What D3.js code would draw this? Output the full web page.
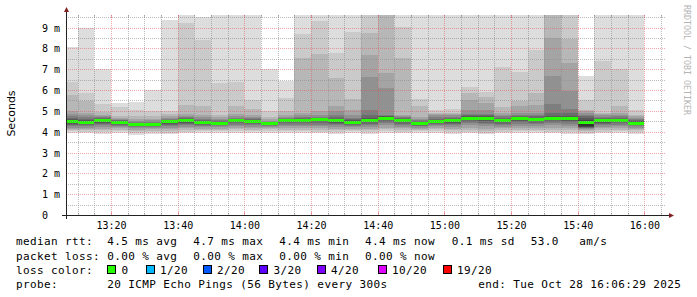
<!DOCTYPE html>
<html><head><meta charset="utf-8">
<script src="https://cdn.jsdelivr.net/npm/d3@7/dist/d3.min.js"></script>
<style>
html,body{margin:0;padding:0;background:#fff;}
svg{display:block;}
</style></head><body>
<svg id="chart" width="697" height="297"></svg>
<script>
// ---------- data ----------
const rangeStart = "13:06:29";
const rangeEnd = "16:06:29";
const stepMinutes = 5;
const binStarts = ["13:05","13:10","13:15","13:20","13:25","13:30","13:35","13:40","13:45","13:50","13:55",
  "14:00","14:05","14:10","14:15","14:20","14:25","14:30","14:35","14:40","14:45","14:50","14:55",
  "15:00","15:05","15:10","15:15","15:20","15:25","15:30","15:35","15:40","15:45","15:50","15:55"];
const medianRtt = [4.50,4.46,4.55,4.46,4.36,4.36,4.50,4.55,4.45,4.40,4.55,
  4.50,4.38,4.54,4.55,4.60,4.54,4.45,4.55,4.65,4.53,4.38,4.48,
  4.53,4.63,4.63,4.53,4.61,4.58,4.63,4.63,4.43,4.52,4.54,4.40];
// 20 sorted ping times (ms) per 5-minute step
const pings = [
  [3.95,4.02,4.08,4.14,4.20,4.26,4.31,4.36,4.41,4.46,4.53,4.57,4.62,4.68,4.75,4.85,4.98,5.78,6.40,8.05],
  [3.92,4.00,4.07,4.13,4.19,4.25,4.30,4.35,4.39,4.43,4.49,4.53,4.58,4.63,4.70,4.78,4.90,5.46,5.86,9.00],
  [3.90,3.98,4.06,4.14,4.22,4.30,4.37,4.43,4.48,4.52,4.57,4.59,4.62,4.65,4.69,4.73,4.80,4.94,5.33,7.00],
  [3.95,4.03,4.10,4.17,4.23,4.29,4.34,4.38,4.41,4.44,4.48,4.50,4.52,4.55,4.58,4.63,4.68,4.76,5.17,5.40],
  [3.86,3.95,4.03,4.10,4.16,4.21,4.26,4.30,4.32,4.34,4.37,4.39,4.41,4.44,4.47,4.52,4.60,4.75,5.05,5.42],
  [3.90,3.98,4.05,4.12,4.18,4.23,4.27,4.30,4.32,4.34,4.37,4.39,4.41,4.44,4.48,4.54,4.62,4.75,4.98,6.00],
  [3.87,3.96,4.04,4.12,4.20,4.27,4.34,4.39,4.44,4.48,4.51,4.53,4.55,4.58,4.62,4.68,4.75,4.85,5.00,9.36],
  [3.92,4.00,4.08,4.16,4.24,4.31,4.38,4.44,4.49,4.53,4.57,4.59,4.62,4.66,4.70,4.75,4.85,5.30,9.23,10.4],
  [3.93,4.01,4.08,4.15,4.21,4.27,4.32,4.37,4.41,4.43,4.47,4.49,4.52,4.56,4.62,4.70,4.82,5.22,8.40,9.52],
  [3.94,4.02,4.09,4.15,4.21,4.26,4.30,4.34,4.37,4.39,4.41,4.43,4.46,4.50,4.55,4.62,4.70,4.82,6.35,10.1],
  [3.95,4.03,4.11,4.19,4.27,4.34,4.40,4.45,4.50,4.53,4.56,4.58,4.60,4.63,4.68,4.75,4.85,5.23,6.40,10.6],
  [3.93,4.01,4.09,4.17,4.24,4.30,4.36,4.41,4.45,4.48,4.51,4.53,4.56,4.60,4.65,4.72,4.82,5.10,5.50,10.2],
  [3.95,4.04,4.12,4.19,4.24,4.28,4.31,4.34,4.36,4.37,4.39,4.40,4.42,4.45,4.48,4.53,4.60,4.70,5.00,7.02],
  [3.94,4.02,4.10,4.18,4.26,4.33,4.40,4.46,4.50,4.53,4.55,4.57,4.59,4.62,4.66,4.72,4.80,4.98,5.62,6.43],
  [3.93,4.01,4.09,4.17,4.25,4.33,4.40,4.46,4.50,4.53,4.57,4.59,4.62,4.66,4.72,4.80,4.91,7.54,8.69,10.3],
  [3.92,4.00,4.08,4.16,4.25,4.34,4.42,4.49,4.54,4.58,4.61,4.63,4.65,4.68,4.72,4.78,4.98,7.74,9.31,10.5],
  [3.90,3.98,4.06,4.14,4.22,4.30,4.38,4.44,4.49,4.52,4.55,4.58,4.63,4.70,4.80,4.98,5.22,6.58,7.79,10.4],
  [3.93,4.01,4.08,4.15,4.21,4.27,4.32,4.37,4.41,4.43,4.47,4.50,4.54,4.60,4.68,4.80,5.02,5.55,8.78,10.2],
  [3.90,3.98,4.06,4.14,4.22,4.30,4.38,4.45,4.50,4.53,4.56,4.60,4.66,4.80,5.04,6.62,7.70,8.74,10.2,10.8],
  [3.95,4.03,4.11,4.20,4.30,4.40,4.48,4.55,4.60,4.63,4.67,4.70,4.73,4.76,4.82,6.10,6.82,10.0,10.4,11.0],
  [3.92,4.00,4.08,4.16,4.24,4.32,4.39,4.45,4.49,4.52,4.55,4.58,4.61,4.65,4.70,4.76,4.82,7.54,9.02,10.3],
  [3.95,4.02,4.08,4.14,4.20,4.25,4.29,4.32,4.35,4.37,4.40,4.42,4.45,4.49,4.54,4.60,4.72,5.23,5.55,10.2],
  [3.96,4.04,4.12,4.20,4.27,4.33,4.38,4.42,4.45,4.47,4.50,4.53,4.57,4.62,4.70,4.78,4.85,4.91,5.04,10.1],
  [3.90,3.98,4.06,4.14,4.22,4.30,4.38,4.44,4.48,4.51,4.55,4.58,4.62,4.66,4.72,4.80,4.86,4.92,5.08,10.2],
  [3.92,4.00,4.10,4.20,4.30,4.40,4.48,4.54,4.58,4.61,4.66,4.70,4.75,4.80,4.85,5.06,5.52,5.87,6.13,10.3],
  [3.88,3.96,4.05,4.15,4.25,4.35,4.44,4.52,4.57,4.61,4.66,4.70,4.74,4.80,4.85,5.05,5.36,5.68,5.92,10.4],
  [3.92,4.00,4.08,4.16,4.24,4.32,4.39,4.45,4.49,4.52,4.56,4.59,4.63,4.68,4.74,4.82,4.90,5.20,7.10,10.2],
  [3.94,4.02,4.10,4.19,4.28,4.37,4.45,4.51,4.56,4.59,4.63,4.66,4.70,4.74,4.80,4.88,5.23,5.49,6.86,10.3],
  [3.93,4.01,4.09,4.18,4.27,4.36,4.44,4.50,4.54,4.57,4.61,4.64,4.68,4.73,4.80,4.90,5.28,5.87,7.94,10.2],
  [3.92,4.00,4.10,4.20,4.30,4.40,4.48,4.55,4.59,4.62,4.66,4.70,4.76,4.88,5.33,6.67,8.50,10.1,10.5,11.0],
  [3.90,3.98,4.08,4.18,4.28,4.38,4.46,4.53,4.58,4.61,4.66,4.70,4.76,4.88,5.07,5.97,7.31,8.47,10.2,10.7],
  [3.88,3.95,4.02,4.08,4.13,4.17,4.20,4.22,4.24,4.26,4.50,4.58,4.66,4.74,4.82,4.90,4.97,5.04,5.52,6.67],
  [3.92,4.00,4.08,4.16,4.24,4.31,4.37,4.42,4.46,4.49,4.55,4.58,4.62,4.66,4.72,4.78,4.83,4.88,7.39,10.2],
  [3.94,4.02,4.10,4.18,4.26,4.33,4.40,4.46,4.50,4.53,4.56,4.59,4.63,4.68,4.74,4.82,4.92,5.23,6.99,10.3],
  [3.90,3.98,4.06,4.13,4.20,4.26,4.31,4.35,4.37,4.39,4.42,4.45,4.49,4.54,4.60,4.67,4.74,4.80,5.04,10.1]
];
const yMaxMs = 9.6;
const yTickValues = [0,1,2,3,4,5,6,7,8,9];
const yTickLabels = ["0","1 m","2 m","3 m","4 m","5 m","6 m","7 m","8 m","9 m"];
const yAxisTitle = "Seconds";
const watermark = "RRDTOOL / TOBI OETIKER";
const lossColorLabels = ["0","1/20","2/20","3/20","4/20","10/20","19/20"];
const lossColors = ["#26ff00","#00b8ff","#0059ff","#5e00ff","#7e00ff","#dd00ff","#ff0000"];
const legendRtt = ["median rtt:","4.5 ms avg","4.7 ms max","4.4 ms min","4.4 ms now","0.1 ms sd","53.0","am/s"];
const legendLoss = ["packet loss:","0.00 % avg","0.00 % max","0.00 % min","0.00 % now"];
const legendLossTitle = "loss color:";
const legendProbe = ["probe:","20 ICMP Echo Pings (56 Bytes) every 300s","end: Tue Oct 28 16:06:29 2025"];

// ---------- layout ----------
const X0 = 66, X1 = 666, Y0 = 215, Y1 = 15;
const mono = "'DejaVu Sans Mono', monospace";
const svg = d3.select("#chart");
svg.append("rect").attr("width",697).attr("height",297).attr("fill","#fff");

function toDate(hms){
  const p = hms.split(":").map(Number);
  return new Date(Date.UTC(2025,9,28,p[0],p[1],p[2]||0));
}
const tStart = toDate(rangeStart), tEnd = toDate(rangeEnd);
const x = d3.scaleUtc().domain([tStart,tEnd]).range([X0,X1]);
const y = d3.scaleLinear().domain([0,yMaxMs]).range([Y0,Y1]);

// smoke band colours (smokeping style)
const half = 10;
const bandColors = d3.range(1,half+1).map(i=>{
  const c = Math.floor(190/half*(half-i))+50;
  return d3.rgb(c,c,c).formatHex();
});

svg.append("defs").append("clipPath").attr("id","plot")
  .append("rect").attr("x",X0).attr("y",Y1).attr("width",X1-X0).attr("height",Y0-Y1);

const plot = svg.append("g").attr("clip-path","url(#plot)").attr("shape-rendering","crispEdges");
binStarts.forEach((s,i)=>{
  const t0 = toDate(s);
  const t1 = d3.utcMinute.offset(t0, stepMinutes);
  const xa = Math.max(x(t0), X0), xb = x(t1);
  const p = pings[i];
  for(let k=0;k<half;k++){
    const lo = Math.min(p[k], yMaxMs), hi = Math.min(p[19-k], yMaxMs);
    plot.append("rect").attr("x",xa).attr("width",xb-xa)
      .attr("y",y(hi)).attr("height",Math.max(0,y(lo)-y(hi)))
      .attr("fill",bandColors[k]);
  }
  plot.append("rect").attr("x",xa).attr("width",xb-xa)
    .attr("y",y(medianRtt[i])-1.5).attr("height",3)
    .attr("fill",lossColors[0]);
});

// ---------- grid ----------
const grid = svg.append("g").attr("shape-rendering","crispEdges");
const minorCol = "rgba(140,140,140,0.6)", majorCol = "rgba(224,80,80,0.5)";
const minorT = x.ticks(d3.utcMinute.every(5));
const majorT = x.ticks(d3.utcMinute.every(20));
const majorSet = new Set(majorT.map(d=>+d));
minorT.filter(d=>!majorSet.has(+d)).forEach(d=>{
  const xx = Math.round(x(d))+0.5;
  grid.append("line").attr("x1",xx).attr("x2",xx).attr("y1",Y1).attr("y2",Y0)
    .attr("stroke",minorCol).attr("stroke-dasharray","1,1");
  grid.append("line").attr("x1",xx).attr("x2",xx).attr("y1",Y0-2).attr("y2",Y0).attr("stroke",minorCol);
  grid.append("line").attr("x1",xx).attr("x2",xx).attr("y1",Y1).attr("y2",Y1+2).attr("stroke",minorCol);
});
majorT.forEach(d=>{
  const xx = Math.round(x(d))+0.5;
  grid.append("line").attr("x1",xx).attr("x2",xx).attr("y1",Y1).attr("y2",Y0)
    .attr("stroke",majorCol).attr("stroke-dasharray","1,1");
  grid.append("line").attr("x1",xx).attr("x2",xx).attr("y1",Y0-3).attr("y2",Y0).attr("stroke",majorCol);
  grid.append("line").attr("x1",xx).attr("x2",xx).attr("y1",Y1).attr("y2",Y1+3).attr("stroke",majorCol);
});
d3.range(0.5, yMaxMs, 1).forEach(v=>{
  const yy = Math.round(y(v))+0.5;
  grid.append("line").attr("x1",X0).attr("x2",X1).attr("y1",yy).attr("y2",yy)
    .attr("stroke",minorCol).attr("stroke-dasharray","1,1");
});
yTickValues.filter(v=>v>0).forEach(v=>{
  const yy = Math.round(y(v))+0.5;
  grid.append("line").attr("x1",X0).attr("x2",X1).attr("y1",yy).attr("y2",yy)
    .attr("stroke",majorCol).attr("stroke-dasharray","1,1");
});

// ---------- axes ----------
const ax = svg.append("g").attr("shape-rendering","crispEdges");
ax.append("line").attr("x1",X0-4).attr("x2",X1+4).attr("y1",Y0+0.5).attr("y2",Y0+0.5).attr("stroke","#222");
ax.append("line").attr("x1",X0+0.5).attr("x2",X0+0.5).attr("y1",Y0+4).attr("y2",Y1-4).attr("stroke","#222");
svg.append("path").attr("d",`M${X1+3},${Y0-2}L${X1+3},${Y0+3}L${X1+8},${Y0+0.5}Z`).attr("fill","#802020");
svg.append("path").attr("d",`M${X0-2},${Y1-3}L${X0+3},${Y1-3}L${X0+0.5},${Y1-8}Z`).attr("fill","#802020");

// y tick labels
const yAx = d3.axisLeft(y).tickValues(yTickValues).tickFormat((d,i)=>yTickLabels[i]).tickSize(0);
const yg = svg.append("g").attr("transform",`translate(${X0},0)`).call(yAx);
yg.select(".domain").remove();
yg.selectAll("text").attr("x",42-X0).attr("text-anchor","start").attr("dy","0.35em")
  .attr("font-family",mono).attr("font-size","10px").attr("fill","#000");

// x tick labels
const xAx = d3.axisBottom(x).tickValues(majorT).tickFormat(d3.utcFormat("%H:%M")).tickSize(0);
const xg = svg.append("g").attr("transform",`translate(0,${Y0})`).call(xAx);
xg.select(".domain").remove();
xg.selectAll("text").attr("y",13.5).attr("dy",null)
  .attr("font-family",mono).attr("font-size","10px").attr("fill","#000");

// titles
svg.append("text").attr("transform","translate(15,113.5) rotate(-90)").attr("text-anchor","middle")
  .attr("font-family","'DejaVu Sans', sans-serif").attr("font-size","11px").attr("fill","#000").text(yAxisTitle);
svg.append("text").attr("transform","translate(684,5) rotate(90)").attr("text-anchor","start")
  .attr("font-family",mono).attr("font-size","8.3px").attr("fill","#b4b4b4").text(watermark);

// ---------- legend ----------
const leg = svg.append("g").attr("font-family",mono).attr("font-size","11px")
  .attr("letter-spacing","0.38px").attr("fill","#000");
function putRow(items, xs, base){
  items.forEach((t,i)=>leg.append("text").attr("x",xs[i]).attr("y",base).attr("xml:space","preserve").text(t));
}
putRow(legendRtt, [16,107.3,193.3,279.3,365,451.7,530.7,579.3], 245);
putRow(legendLoss, [16,107.3,193.3,279.3,365], 259.5);
putRow([legendLossTitle],[16],274);
const boxX = [107.3,145.7,202.7,259.3,316.7,377.7,442.7];
lossColorLabels.forEach((lab,i)=>{
  const bx = Math.round(boxX[i]);
  leg.append("rect").attr("x",bx+0.5).attr("y",265.5).attr("width",8).attr("height",8)
    .attr("fill",lossColors[i]).attr("stroke","#000").attr("stroke-width",1);
  leg.append("text").attr("x",boxX[i]+14.3).attr("y",274).text(lab);
});
putRow(legendProbe, [16,107.3,478.3], 288.3);
</script>
</body></html>
